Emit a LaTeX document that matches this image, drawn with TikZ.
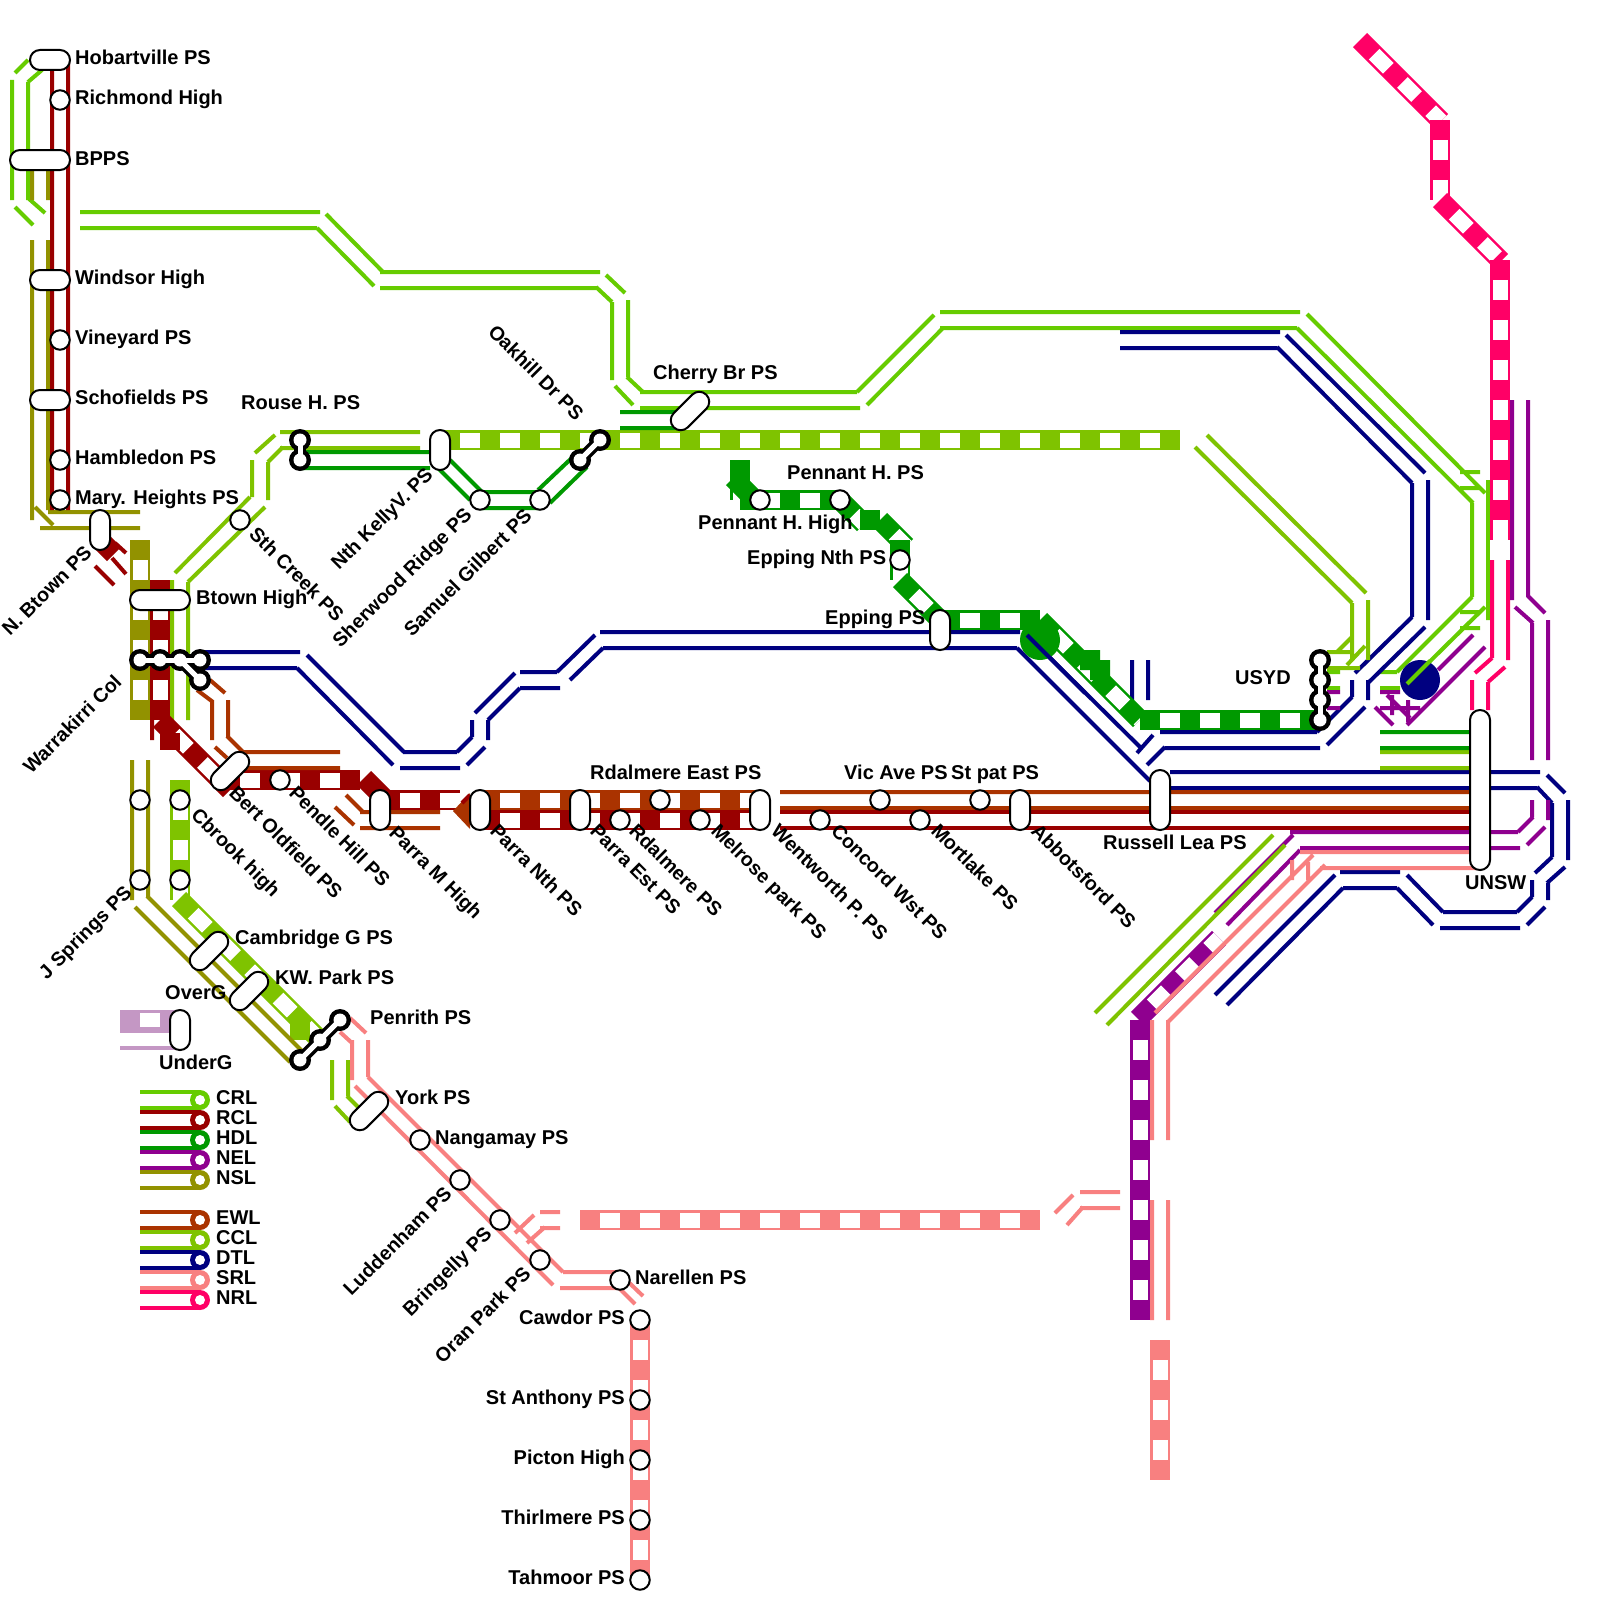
\documentclass[tikz,border=0pt]{standalone}
\usepackage{fontspec}
\setmainfont{Liberation Sans}
\definecolor{crl}{HTML}{66CC00}
\definecolor{ccl}{HTML}{7FC300}
\definecolor{rcl}{HTML}{990000}
\definecolor{hdl}{HTML}{009900}
\definecolor{nel}{HTML}{8F008F}
\definecolor{nsl}{HTML}{929200}
\definecolor{ewl}{HTML}{AA3300}
\definecolor{dtl}{HTML}{000080}
\definecolor{srl}{HTML}{F88080}
\definecolor{nrl}{HTML}{FF0066}
\definecolor{ugl}{HTML}{C497C4}
\tikzset{
 rail/.style={line width=4pt,line cap=butt},
 stn/.style={circle,draw=black,fill=white,line width=2pt,minimum size=19.5pt,inner sep=0pt},
 pill/.style={rectangle,rounded corners=9.9pt,draw=black,fill=white,line width=2pt,minimum height=20pt,inner sep=0pt},
 lab/.style={font=\fontsize{20}{24}\selectfont\bfseries,inner sep=0pt,text=black,anchor=base west},
 labe/.style={lab,anchor=base east},
 down/.style={lab,font=\fontsize{19.7}{24}\selectfont\bfseries,rotate=-45},
 up/.style={labe,font=\fontsize{19.7}{24}\selectfont\bfseries,rotate=45},
}
\newcommand{\bnd}[3]{\draw[line width=20pt,#1] (#2)--(#3);\draw[line width=15pt,white,dash pattern=on 20pt off 20pt,dash phase=20pt] (#2)--(#3);}
\newcommand{\ichg}[2]{%
 \foreach \p in {#1} \fill[black] (\p) circle (11pt);
 \foreach \a/\b in {#2} \draw[black,line width=12pt] (\a)--(\b);
 \foreach \p in {#1} \fill[white] (\p) circle (6.5pt);
 \foreach \a/\b in {#2} \draw[white,line width=5pt] (\a)--(\b);}
\newcommand{\legrow}[3]{%
 \draw[rail,#1] (140,#2-8)--(200,#2-8) (140,#2+8)--(200,#2+8);
 \fill[#1] (200,#2) circle (10pt);
 \fill[white] (200,#2) circle (5pt);
 \node[lab] at (216,#2+4) {#3};}
\begin{document}
\begin{tikzpicture}[x=1pt,y=-1pt]
\useasboundingbox (0,0) rectangle (1600,1600);
\fill[white] (0,0) rectangle (1600,1600);
% ---------- CRL
\draw[rail,crl] (15,73)--(28,60) (28,82)--(42,70) (12,80)--(12,200) (28,82)--(28,200)
 (15,207)--(33,225) (28,198)--(45,213)
 (80,212)--(320,212) (80,228)--(317,228) (326,214)--(383,272) (317,228)--(374,286)
 (380,272)--(600,272) (380,288)--(597,288) (606,275)--(625,293) (596,287)--(612,302)
 (612,302)--(612,380) (628,300)--(628,377) (615,386)--(633,405) (627,377)--(643,392)
 (640,392)--(857,392) (640,408)--(860,408) (857,392)--(934,315) (867,405)--(943,328)
 (940,312)--(1300,312) (940,328)--(1297,328) (1307,314)--(1485,493) (1297,328)--(1473,503)
 (1460,472)--(1480,472) (1460,488)--(1480,488) (1472,503)--(1472,597) (1488,480)--(1488,620)
 (1472,597)--(1397,672) (1485,607)--(1407,684) (1460,612)--(1480,612) (1460,628)--(1480,628)
 (1380,672)--(1397,672) (1380,688)--(1400,688) (1327,672)--(1340,672) (1327,688)--(1340,688);
% ---------- DTL
\draw[rail,dtl] (200,652)--(300,652) (200,668)--(297,668) (307,655)--(404,752) (297,668)--(393,765)
 (403,752)--(457,752) (400,768)--(460,768) (457,752)--(472,737) (467,765)--(485,747)
 (472,720)--(472,737) (488,720)--(488,740) (475,713)--(515,673) (488,720)--(520,688)
 (520,672)--(557,672) (520,688)--(560,688) (557,672)--(595,635) (570,680)--(603,648)
 (600,632)--(1020,632) (603,648)--(1017,648) (1027,635)--(1140,747) (1017,648)--(1150,781)
 (1137,753)--(1153,735) (1147,765)--(1165,747) (1160,732)--(1317,732) (1165,748)--(1320,748)
 (1317,732)--(1352,697) (1327,745)--(1365,707) (1352,680)--(1352,697) (1368,680)--(1368,700)
 (1355,673)--(1412,617) (1368,683)--(1425,627) (1412,483)--(1412,617) (1428,480)--(1428,620)
 (1425,473)--(1286,335) (1412,483)--(1277,347) (1120,332)--(1280,332) (1120,348)--(1277,348)
 (1132,660)--(1132,700) (1148,660)--(1148,700)
 (1170,772)--(1540,772) (1170,788)--(1537,788) (1547,775)--(1565,793) (1537,787)--(1552,803)
 (1552,803)--(1552,857) (1568,800)--(1568,860) (1552,857)--(1535,873) (1565,867)--(1547,883)
 (1532,880)--(1532,897) (1548,883)--(1548,900) (1532,897)--(1517,912) (1545,907)--(1527,925)
 (1443,912)--(1517,912) (1440,928)--(1520,928) (1407,875)--(1443,912) (1397,888)--(1433,925)
 (1340,872)--(1400,872) (1343,888)--(1397,888) (1335,875)--(1215,995) (1343,888)--(1227,1005);
% ---------- NRL
\bnd{nrl}{1360,40}{1441,121}
\bnd{nrl}{1440,120}{1440,200}
\bnd{nrl}{1440,200}{1501,261}
\bnd{nrl}{1500,260}{1500,540}
\fill[white] (1490,540) rectangle (1510,560);
\draw[rail,nrl] (1492,560)--(1492,658) (1508,560)--(1508,660) (1492,658)--(1475,673) (1505,667)--(1488,682)
 (1472,680)--(1472,710) (1488,682)--(1488,710);
% ---------- NEL
\bnd{nel}{1138,1019}{1219,938}
\bnd{nel}{1140,1020}{1140,1320}
\draw[rail,nel] (1227,925)--(1300,850) (1215,913)--(1293,835) (1290,832)--(1518,832) (1300,848)--(1520,848)
 (1518,832)--(1533,817) (1532,800)--(1532,817) (1548,800)--(1548,820) (1527,845)--(1545,827)
 (1512,400)--(1512,600) (1528,400)--(1528,597) (1528,596)--(1545,613) (1515,607)--(1533,623)
 (1532,623)--(1532,760) (1548,620)--(1548,760)
 (1438,670)--(1473,635) (1485,647)--(1407,725) (1375,707)--(1393,725) (1387,695)--(1410,718)
 (1380,692)--(1400,692) (1380,708)--(1420,708) (1392,695)--(1392,715) (1408,700)--(1408,722)
 (1327,692)--(1340,692) (1327,708)--(1340,708);
% ---------- CCL
\bnd{ccl}{440,440}{1180,440}
\draw[rail,ccl] (175,573)--(250,497) (188,582)--(265,507) (252,460)--(252,497) (268,462)--(268,500)
 (255,453)--(275,435) (268,462)--(283,447) (280,432)--(420,432) (280,448)--(420,448)
 (1207,435)--(1366,593) (1195,447)--(1352,603) (1352,603)--(1352,660) (1368,600)--(1368,660)
 (1352,637)--(1337,652) (1365,646)--(1347,665) (1327,652)--(1352,652) (1327,668)--(1360,668)
 (172,580)--(172,720) (188,582)--(188,720)
 (332,1060)--(332,1100) (348,1060)--(348,1096) (335,1106)--(350,1122) (347,1096)--(358,1107)
 (1095,1013)--(1273,835) (1107,1025)--(1285,845)
 (1380,752)--(1470,752) (1380,768)--(1470,768);
\bnd{ccl}{180,780}{180,900}
\bnd{ccl}{179,899}{320,1040}
\fill[ccl] (290,1022) rectangle (310,1040);
% ---------- HDL
\draw[rail,hdl] (620,412)--(680,412) (620,428)--(680,428) (300,452)--(430,452) (300,468)--(430,468)
 (450,460)--(482,492) (438,468)--(470,500) (480,492)--(540,492) (480,508)--(540,508)
 (538,490)--(577,453) (550,503)--(587,467) (1380,732)--(1470,732) (1380,748)--(1470,748);
\bnd{hdl}{740,460}{740,500}
\draw[line width=20pt,hdl] (733,478)--(752,497);
\bnd{hdl}{740,500}{840,500}
\bnd{hdl}{840,500}{864,524}
\fill[hdl] (860,510) rectangle (880,530);
\bnd{hdl}{880,520}{906,546}
\bnd{hdl}{900,540}{900,580}
\bnd{hdl}{900,580}{940,620}
\bnd{hdl}{940,620}{1040,620}
\bnd{hdl}{1040,620}{1140,720}
\fill[hdl] (1040,640) circle (20pt);
\fill[hdl] (1080,650) rectangle (1100,670) (1090,660) rectangle (1110,680);
\bnd{hdl}{1140,720}{1320,720}
\draw[rail,dtl] (1027,635)--(1085,693);
% ---------- NSL
\draw[rail,nsl] (32,170)--(32,200) (48,170)--(48,200) (32,240)--(32,520) (48,240)--(48,510) (35,507)--(53,525)
 (48,512)--(140,512) (40,528)--(140,528) (132,760)--(132,900) (148,760)--(148,897)
 (135,907)--(290,1062) (147,896)--(303,1052);
\bnd{nsl}{140,540}{140,720}
% ---------- RCL
\draw[rail,rcl] (52,70)--(52,510) (68,60)--(68,510) (115,543)--(126,553) (112,558)--(126,574) (95,566)--(114,585)
 (152,720)--(152,740);
\draw[line width=20pt,rcl] (100,540)--(114,554);
\bnd{rcl}{160,580}{160,720}
\bnd{rcl}{160,720}{230,790}
\fill[rcl] (160,733) rectangle (180,750);
\bnd{rcl}{220,780}{360,780}
\draw[line width=20pt,rcl] (364,778)--(385,799);
\bnd{rcl}{380,800}{460,800}
% ---------- EWL
\draw[rail,ewl] (210,680)--(225,693) (197,690)--(213,702) (212,700)--(212,740) (228,700)--(228,737)
 (215,747)--(227,758) (227,736)--(243,752) (240,752)--(340,752) (240,768)--(340,768)
 (346,795)--(363,812) (335,807)--(354,825) (360,812)--(440,812) (360,828)--(440,828)
 (780,792)--(1480,792) (780,808)--(1480,808);
\fill[ewl] (453,811)--(470,793)--(470,829)--cycle;
\draw[rail,rcl] (462,803)--(470,795);
\bnd{rcl}{480,820}{760,820}
\bnd{ewl}{480,800}{760,800}
\draw[rail,rcl] (780,812)--(1480,812) (780,828)--(1480,828);
% ---------- SRL
\draw[rail,srl] (350,1018)--(366,1033) (340,1032)--(352,1043) (352,1040)--(352,1080) (368,1040)--(368,1077)
 (355,1086)--(553,1285) (368,1077)--(563,1272) (515,1233)--(534,1215) (527,1243)--(545,1227)
 (540,1212)--(560,1212) (540,1228)--(560,1228) (563,1272)--(620,1272) (560,1288)--(620,1288)
 (620,1274)--(643,1296) (619,1288)--(635,1304)
 (1055,1213)--(1073,1195) (1067,1225)--(1083,1207) (1080,1192)--(1120,1192) (1080,1208)--(1120,1208)
 (1152,1020)--(1152,1140) (1168,1020)--(1168,1140) (1152,1200)--(1152,1320) (1168,1200)--(1168,1320)
 (1155,1013)--(1313,855) (1168,1022)--(1325,865) (1300,852)--(1480,852) (1320,868)--(1480,868)
 (1292,860)--(1292,880) (1308,862)--(1308,880);
\bnd{srl}{580,1220}{1040,1220}
\bnd{srl}{640,1320}{640,1580}
\bnd{srl}{1160,1340}{1160,1480}
% ---------- under/over legend
\fill[ugl] (120,1010) rectangle (175,1033);
\fill[white] (140,1013) rectangle (160,1027);
\draw[rail,ugl] (120,1048)--(175,1048);
% ---------- blue disc
\fill[dtl] (1420,680) circle (20pt);
\draw[rail,crl] (1430,661)--(1407,684);
% ---------- legend
\legrow{crl}{1100}{CRL}
\legrow{rcl}{1120}{RCL}
\legrow{hdl}{1140}{HDL}
\legrow{nel}{1160}{NEL}
\legrow{nsl}{1180}{NSL}
\legrow{ewl}{1220}{EWL}
\legrow{ccl}{1240}{CCL}
\legrow{dtl}{1260}{DTL}
\legrow{srl}{1280}{SRL}
\legrow{nrl}{1300}{NRL}
% ---------- interchanges
\coordinate (wa) at (140,660); \coordinate (wb) at (160,660); \coordinate (wc) at (180,660); \coordinate (wd) at (200,660); \coordinate (we) at (200,680);
\ichg{wa,wb,wc,wd,we}{wa/wb,wb/wc,wc/wd,wc/we}
\coordinate (ra) at (300,440); \coordinate (rb) at (300,460);
\ichg{ra,rb}{ra/rb}
\coordinate (oa) at (580,460); \coordinate (ob) at (600,440);
\ichg{oa,ob}{oa/ob}
\coordinate (ua) at (1320,660); \coordinate (ub) at (1320,680); \coordinate (uc) at (1320,700); \coordinate (ud) at (1320,720);
\ichg{ua,ub,uc,ud}{ua/ub,ub/uc,uc/ud}
\coordinate (pa) at (340,1020); \coordinate (pb) at (320,1040); \coordinate (pc) at (300,1060);
\ichg{pa,pb,pc}{pa/pb,pb/pc}
% ---------- pills
\node[pill,minimum width=40pt] (hob) at (50,60) {};
\node[pill,minimum width=60pt] (bpps) at (40,160) {};
\node[pill,minimum width=40pt] (win) at (50,280) {};
\node[pill,minimum width=40pt] (sch) at (50,400) {};
\node[pill,minimum width=40pt,rotate=90] (nbt) at (100,530) {};
\node[pill,minimum width=60pt] (btn) at (160,600) {};
\node[pill,minimum width=40pt,rotate=90] (nke) at (440,450) {};
\node[pill,minimum width=46pt,rotate=45] (che) at (690,411) {};
\node[pill,minimum width=40pt,rotate=90] (epp) at (940,630) {};
\node[pill,minimum width=46pt,rotate=45] (ber) at (230,771) {};
\node[pill,minimum width=40pt,rotate=90] (pam) at (380,810) {};
\node[pill,minimum width=40pt,rotate=90] (pan) at (480,810) {};
\node[pill,minimum width=40pt,rotate=90] (pae) at (580,810) {};
\node[pill,minimum width=40pt,rotate=90] (wen) at (760,810) {};
\node[pill,minimum width=40pt,rotate=90] (abb) at (1020,810) {};
\node[pill,minimum width=60pt,rotate=90] (rus) at (1160,800) {};
\node[pill,minimum width=160pt,rotate=90] (uns) at (1480,790) {};
\node[pill,minimum width=46pt,rotate=45] (cam) at (209,951) {};
\node[pill,minimum width=46pt,rotate=45] (kwp) at (249,991) {};
\node[pill,minimum width=40pt,rotate=90] (ovr) at (180,1030) {};
\node[pill,minimum width=46pt,rotate=45] (yor) at (369,1111) {};
% ---------- stations
\foreach \n/\x/\y in {ric/60/100,vin/60/340,ham/60/460,mar/60/500,sth/240/520,she/480/500,sam/540/500,
 pnh/760/500,pnp/840/500,enn/900/560,pen/280/780,rdl/620/820,rde/660/800,mel/700/820,con/820/820,
 vic/880/800,mor/920/820,stp/980/800,cba/140/800,cbb/180/800,jsa/140/880,jsb/180/880,
 nan/420/1140,lud/460/1180,bri/500/1220,ora/540/1260,nar/620/1280,caw/640/1320,san/640/1400,
 pic/640/1460,thi/640/1520,tah/640/1580}
 \node[stn] (\n) at (\x,\y) {};
% ---------- labels
\node[lab] at (75,65) {Hobartville PS};
\node[lab] at (75,105) {Richmond High};
\node[lab] at (75,165) {BPPS};
\node[lab] at (75,284) {Windsor High};
\node[lab] at (75,344) {Vineyard PS};
\node[lab] at (75,404) {Schofields PS};
\node[lab] at (75,464) {Hambledon PS};
\node[lab] at (75,504.5) {Mary. Heights PS};
\node[lab] at (241,409) {Rouse H. PS};
\node[lab] at (196,604) {Btown High};
\node[lab] at (653,379) {Cherry Br PS};
\node[lab] at (787,479) {Pennant H. PS};
\node[lab] at (698,529) {Pennant H. High};
\node[lab] at (747,564) {Epping Nth PS};
\node[lab] at (825,624) {Epping PS};
\node[lab] at (1235,684) {USYD};
\node[lab] at (590,779) {Rdalmere East PS};
\node[lab] at (844,779) {Vic Ave PS};
\node[lab] at (951,779) {St pat PS};
\node[lab] at (1103,849) {Russell Lea PS};
\node[lab] at (1465,889) {UNSW};
\node[lab] at (235,944) {Cambridge G PS};
\node[lab] at (275,984) {KW. Park PS};
\node[lab] at (165,999) {OverG};
\node[lab] at (159,1069) {UnderG};
\node[lab] at (370,1024) {Penrith PS};
\node[lab] at (395,1104) {York PS};
\node[lab] at (435,1144) {Nangamay PS};
\node[lab] at (635,1284) {Narellen PS};
\node[labe] at (625,1324) {Cawdor PS};
\node[labe] at (625,1404) {St Anthony PS};
\node[labe] at (625,1464) {Picton High};
\node[labe] at (625,1524) {Thirlmere PS};
\node[labe] at (625,1584) {Tahmoor PS};
\node[down] at (248,535) {Sth Creek PS};
\node[down] at (228,794) {Bert Oldfield PS};
\node[down] at (288,794) {Pendle Hill PS};
\node[down] at (388,834) {Parra M High};
\node[down] at (190,816) {Cbrook high};
\node[down] at (489,832) {Parra Nth PS};
\node[down] at (589,832) {Parra Est PS};
\node[down] at (628,832) {Rdalmere PS};
\node[down] at (710,832) {Melrose park PS};
\node[down] at (770,832) {Wentworth P. PS};
\node[down] at (830,832) {Concord Wst PS};
\node[down] at (930,832) {Mortlake PS};
\node[down] at (1030,832) {Abbotsford PS};
\node[down] at (487,333) {Oakhill Dr PS};
\node[up] at (93,554) {N. Btown PS};
\node[up] at (123,683) {Warrakirri Col};
\node[up] at (133,894) {J Springs PS};
\node[up] at (434,476) {Nth KellyV. PS};
\node[up] at (473,516) {Sherwood Ridge PS};
\node[up] at (533,517) {Samuel Gilbert PS};
\node[up] at (453,1195) {Luddenham PS};
\node[up] at (493,1235) {Bringelly PS};
\node[up] at (532,1275) {Oran Park PS};
\end{tikzpicture}
\end{document}
